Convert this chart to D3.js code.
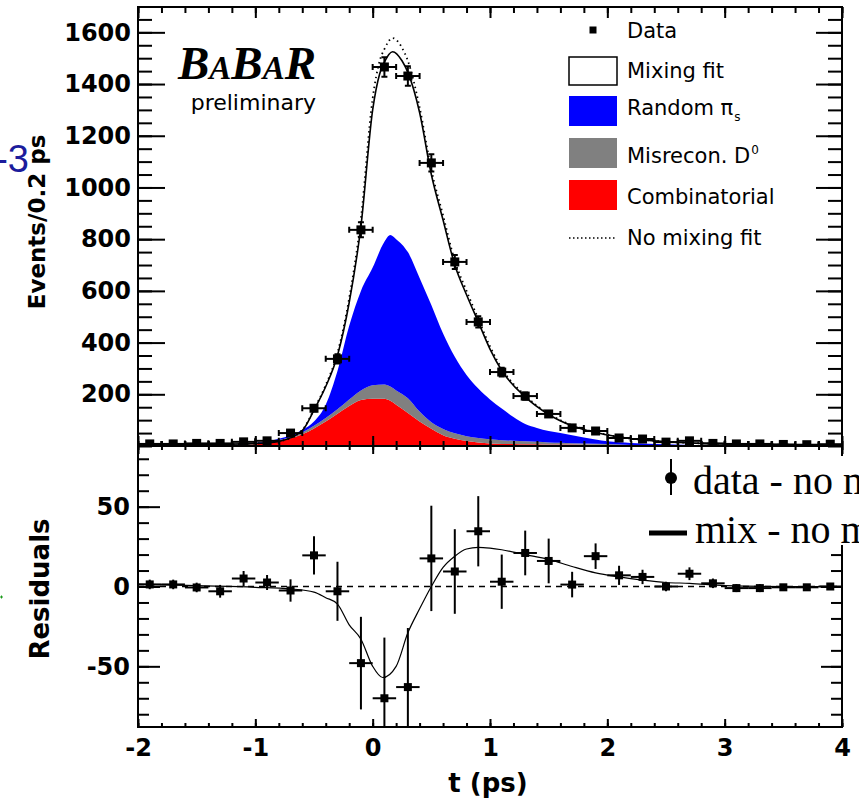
<!DOCTYPE html>
<html>
<head>
<meta charset="utf-8">
<script src="https://cdn.jsdelivr.net/npm/d3@7/dist/d3.min.js"></script>
<style>
  body { margin: 0; background: #fff; }
  svg { display: block; }
</style>
</head>
<body>
<div id="chart"></div>
<script>
// data histogram, 0.2 ps bins
var binCenters = [-1.9,-1.7,-1.5,-1.3,-1.1,-0.9,-0.7,-0.5,-0.3,-0.1,0.1,0.3,0.5,0.7,0.9,1.1,1.3,1.5,1.7,1.9,2.1,2.3,2.5,2.7,2.9,3.1,3.3,3.5,3.7,3.9];
var dataCounts = [8,8,10,10,16,20,50,146,337,836,1466,1431,1095,712,480,286,193,124,70,58,31,27,15,20,10,8,8,6,5,7];
var dataErrors = [3,3,3,3,4,5,7,12,18,29,38,38,33,27,22,17,14,11,8,8,6,5,4,4,3,3,3,2,2,3];

// residuals (data - no mixing)
var residuals = [1.3,1.3,-0.6,-3,5,2.5,-2.5,19.5,-3,-48,-70,-63,17.6,9.4,34.6,3,21,16,1.2,19,7,6,0,8,2,-1,-1,-0.5,-0.5,0];
var residualErrors = [3,3,3,4,4.7,4.7,7,12,18.5,29,38,37,33,26.5,22,17,14,14,8,8,6,4.5,3,4,3,2.5,2.5,2,2,2];

// fit curves
var fitT = [-2.0,-1.5,-1.0,-0.8,-0.6,-0.5,-0.4,-0.3,-0.2,-0.1,0.0,0.06,0.1,0.17,0.25,0.3,0.4,0.5,0.6,0.7,0.8,0.9,1.0,1.1,1.3,1.5,1.7,1.9,2.1,2.4,2.7,3.0,3.5,4.0];
var mixingFit = [4,5,10,18,60,139,230,350,555,850,1300,1440,1485,1525,1490,1445,1290,1050,874,700,585,480,375,292,190,122,78,52,35,20,12,8,5,3];
var noMixingFit = [4,5,10,18,62,142,236,360,572,880,1345,1490,1535,1578,1540,1490,1310,1068,892,716,600,492,385,300,195,125,80,53,35,20,12,8,5,3];

// mix - no mix curve for the residual pad
var residT = [-2.0,-1.5,-1.0,-0.7,-0.5,-0.4,-0.3,-0.2,-0.1,0.0,0.085,0.2,0.3,0.4,0.5,0.6,0.7,0.8,0.9,1.0,1.1,1.3,1.5,1.7,1.9,2.1,2.3,2.5,2.7,3.0,3.5,4.0];
var mixMinusNoMix = [1.5,0.5,-0.5,-1.5,-3.5,-7,-11,-24,-33,-50,-57,-50,-29,-14,0,12,19,23.5,24.5,24,23,20,17,12.5,8.5,6,4,2.5,2,0.6,0,0];

// background components (stacked)
var compT = [-2.0,-1.4,-1.2,-1.0,-0.9,-0.8,-0.7,-0.6,-0.5,-0.4,-0.3,-0.2,-0.1,0.0,0.1,0.15,0.2,0.3,0.4,0.5,0.6,0.7,0.8,0.9,1.0,1.1,1.2,1.3,1.4,1.5,1.6,1.8,2.0,2.2,2.5,2.8,3.0,4.0];
var combinatorial = [0,0,2,7,12,19,30,45,68,95,125,155,178,183,183,175,160,128,95,67,42,28,19,14,10,8,8,7,7,6,6,5,4,0,0,0,0,0];
var misrecon = [0,0,1,3,3,4,5,7,10,13,17,25,37,52,55,55,55,57,38,25,24,21,19,17,16,14,12,11,9,8,7,5,4,4,0,0,0,0];
var randomPis = [0,0,0,2,3,5,7,10,17,52,148,285,385,455,552,586,585,565,517,453,369,296,237,191,154,123,92,67,54,44,37,23,10,8,7,3,0,0];

var countTicks = [200,400,600,800,1000,1200,1400,1600];
var residTicks = [-50,0,50];
var tTicks = [-2,-1,0,1,2,3,4];

var width = 859, height = 807;
var padL = 138, padR = 842, padT = 7, padM = 446, padB = 727;

var svg = d3.select("#chart")
  .append("svg")
    .attr("width", width)
    .attr("height", height)
    .style("font-family", "'DejaVu Sans', sans-serif");

var x = d3.scaleLinear().domain([-2, 4]).range([padL, padR]);
var yTop = d3.scaleLinear().domain([0, 1698]).range([padM, padT]);
var yRes = d3.scaleLinear().domain([-88, 88]).range([padB, padM]);

// clip paths
var defs = svg.append("defs");
defs.append("clipPath").attr("id", "clipTop")
  .append("rect").attr("x", padL).attr("y", padT).attr("width", padR - padL).attr("height", padM - padT);
defs.append("clipPath").attr("id", "clipRes")
  .append("rect").attr("x", padL).attr("y", padM).attr("width", padR - padL).attr("height", padB - padM);

// ---------- top pad ----------
var gTop = svg.append("g").attr("clip-path", "url(#clipTop)");

var rows = compT.map(function(t, i) {
  return { t: t, comb: combinatorial[i], mis: misrecon[i], rnd: randomPis[i] };
});
var stacked = d3.stack().keys(["comb", "mis", "rnd"])(rows);
var compColors = { comb: "#ff0000", mis: "#808080", rnd: "#0000ff" };

var area = d3.area()
  .x(function(d) { return x(d.data.t); })
  .y0(function(d) { return yTop(d[0]); })
  .y1(function(d) { return yTop(d[1]); })
  .curve(d3.curveMonotoneX);

gTop.selectAll("path.comp")
  .data(stacked)
  .enter()
  .append("path")
    .attr("class", "comp")
    .attr("d", area)
    .attr("fill", function(d) { return compColors[d.key]; });

var fitLine = d3.line()
  .x(function(d) { return x(d[0]); })
  .y(function(d) { return yTop(d[1]); })
  .curve(d3.curveMonotoneX);

gTop.append("path")
  .attr("d", fitLine(d3.zip(fitT, noMixingFit)))
  .attr("fill", "none")
  .attr("stroke", "#000")
  .attr("stroke-width", 1.8)
  .attr("stroke-dasharray", "1.5,3.5");

gTop.append("path")
  .attr("d", fitLine(d3.zip(fitT, mixingFit)))
  .attr("fill", "none")
  .attr("stroke", "#000")
  .attr("stroke-width", 1.6);

// data points with error bars
var pts = gTop.selectAll("g.pt")
  .data(d3.zip(binCenters, dataCounts, dataErrors))
  .enter()
  .append("g").attr("class", "pt");
pts.append("line")
  .attr("x1", function(d) { return x(d[0] - 0.1); })
  .attr("x2", function(d) { return x(d[0] + 0.1); })
  .attr("y1", function(d) { return yTop(d[1]); })
  .attr("y2", function(d) { return yTop(d[1]); });
pts.append("line")
  .attr("x1", function(d) { return x(d[0]); })
  .attr("x2", function(d) { return x(d[0]); })
  .attr("y1", function(d) { return yTop(d[1] - d[2]); })
  .attr("y2", function(d) { return yTop(d[1] + d[2]); });
// end caps
pts.append("path")
  .attr("d", function(d) {
    var cx = x(d[0]), cy = yTop(d[1]), xl = x(d[0] - 0.1), xr = x(d[0] + 0.1);
    var ylo = yTop(d[1] - d[2]), yhi = yTop(d[1] + d[2]);
    return "M" + xl + "," + (cy - 3) + "V" + (cy + 3) +
           "M" + xr + "," + (cy - 3) + "V" + (cy + 3) +
           "M" + (cx - 3) + "," + ylo + "H" + (cx + 3) +
           "M" + (cx - 3) + "," + yhi + "H" + (cx + 3);
  });
pts.selectAll("line, path").attr("stroke", "#000").attr("stroke-width", 2).attr("fill", "none");
pts.append("rect")
  .attr("x", function(d) { return x(d[0]) - 4.5; })
  .attr("y", function(d) { return yTop(d[1]) - 4.5; })
  .attr("width", 9).attr("height", 9)
  .attr("fill", "#000");

// ---------- residual pad ----------
var gRes = svg.append("g").attr("clip-path", "url(#clipRes)");

gRes.append("line")
  .attr("x1", padL).attr("x2", padR)
  .attr("y1", yRes(0)).attr("y2", yRes(0))
  .attr("stroke", "#000").attr("stroke-width", 1.5)
  .attr("stroke-dasharray", "6,5");

var resLine = d3.line()
  .x(function(d) { return x(d[0]); })
  .y(function(d) { return yRes(d[1]); })
  .curve(d3.curveMonotoneX);

gRes.append("path")
  .attr("d", resLine(d3.zip(residT, mixMinusNoMix)))
  .attr("fill", "none")
  .attr("stroke", "#000")
  .attr("stroke-width", 1.2);

var rpts = gRes.selectAll("g.rpt")
  .data(d3.zip(binCenters, residuals, residualErrors))
  .enter()
  .append("g").attr("class", "rpt");
rpts.append("line")
  .attr("x1", function(d) { return x(d[0] - 0.1); })
  .attr("x2", function(d) { return x(d[0] + 0.1); })
  .attr("y1", function(d) { return yRes(d[1]); })
  .attr("y2", function(d) { return yRes(d[1]); });
rpts.append("line")
  .attr("x1", function(d) { return x(d[0]); })
  .attr("x2", function(d) { return x(d[0]); })
  .attr("y1", function(d) { return yRes(d[1] - d[2]); })
  .attr("y2", function(d) { return yRes(d[1] + d[2]); });
rpts.selectAll("line").attr("stroke", "#000").attr("stroke-width", 2);
rpts.append("rect")
  .attr("x", function(d) { return x(d[0]) - 4; })
  .attr("y", function(d) { return yRes(d[1]) - 4; })
  .attr("width", 8).attr("height", 8)
  .attr("fill", "#000");

// ---------- axes ----------
function plain(d) { return String(d); }

function styleAxis(g) {
  g.select(".domain").remove();
  g.selectAll(".tick line").attr("stroke", "#000").attr("stroke-width", 2);
  g.selectAll("text")
    .attr("fill", "#000")
    .attr("font-family", "'DejaVu Sans', sans-serif")
    .attr("font-size", 24)
    .attr("font-weight", "bold");
}

var countMinor = d3.range(0, 1700, 50);
var residMinor = d3.range(-80, 90, 10);
var tMinor = d3.range(-2, 4.01, 0.2);

// top pad, y
svg.append("g").attr("transform", "translate(" + padL + ",0)")
  .call(d3.axisLeft(yTop).tickValues(countMinor).tickSize(-14).tickFormat("")).call(styleAxis);
svg.append("g").attr("transform", "translate(" + padL + ",0)")
  .call(d3.axisLeft(yTop).tickValues(countTicks).tickSize(-27).tickPadding(7).tickFormat(plain)).call(styleAxis);
svg.append("g").attr("transform", "translate(" + padR + ",0)")
  .call(d3.axisRight(yTop).tickValues(countMinor).tickSize(-14).tickFormat("")).call(styleAxis);
svg.append("g").attr("transform", "translate(" + padR + ",0)")
  .call(d3.axisRight(yTop).tickValues(countTicks).tickSize(-26).tickFormat("")).call(styleAxis);

// top pad, x (top edge and shared edge)
svg.append("g").attr("transform", "translate(0," + padT + ")")
  .call(d3.axisTop(x).tickValues(tMinor).tickSize(-6).tickFormat("")).call(styleAxis);
svg.append("g").attr("transform", "translate(0," + padT + ")")
  .call(d3.axisTop(x).tickValues(tTicks).tickSize(-11).tickFormat("")).call(styleAxis);
svg.append("g").attr("transform", "translate(0," + padM + ")")
  .call(d3.axisBottom(x).tickValues(tMinor).tickSize(-5).tickFormat("")).call(styleAxis);
svg.append("g").attr("transform", "translate(0," + padM + ")")
  .call(d3.axisBottom(x).tickValues(tTicks).tickSize(-10).tickFormat("")).call(styleAxis);

// residual pad, x
svg.append("g").attr("transform", "translate(0," + padM + ")")
  .call(d3.axisTop(x).tickValues(tMinor).tickSize(-4).tickFormat("")).call(styleAxis);
svg.append("g").attr("transform", "translate(0," + padM + ")")
  .call(d3.axisTop(x).tickValues(tTicks).tickSize(-8).tickFormat("")).call(styleAxis);
svg.append("g").attr("transform", "translate(0," + padB + ")")
  .call(d3.axisBottom(x).tickValues(tMinor).tickSize(-4).tickFormat("")).call(styleAxis);
svg.append("g").attr("transform", "translate(0," + padB + ")")
  .call(d3.axisBottom(x).tickValues(tTicks).tickSize(-8).tickPadding(12).tickFormat(plain)).call(styleAxis);

// residual pad, y
svg.append("g").attr("transform", "translate(" + padL + ",0)")
  .call(d3.axisLeft(yRes).tickValues(residMinor).tickSize(-11).tickFormat("")).call(styleAxis);
svg.append("g").attr("transform", "translate(" + padL + ",0)")
  .call(d3.axisLeft(yRes).tickValues(residTicks).tickSize(-22).tickPadding(8).tickFormat(plain)).call(styleAxis);
svg.append("g").attr("transform", "translate(" + padR + ",0)")
  .call(d3.axisRight(yRes).tickValues(residMinor).tickSize(-11).tickFormat("")).call(styleAxis);
svg.append("g").attr("transform", "translate(" + padR + ",0)")
  .call(d3.axisRight(yRes).tickValues(residTicks).tickSize(-21).tickFormat("")).call(styleAxis);

// frames
svg.append("rect")
  .attr("x", padL).attr("y", padT).attr("width", padR - padL).attr("height", padM - padT)
  .attr("fill", "none").attr("stroke", "#000").attr("stroke-width", 2);
svg.append("rect")
  .attr("x", padL).attr("y", padM).attr("width", padR - padL).attr("height", padB - padM)
  .attr("fill", "none").attr("stroke", "#000").attr("stroke-width", 2);

// axis titles
svg.append("text")
  .attr("transform", "translate(45,222) rotate(-90)")
  .attr("text-anchor", "middle")
  .attr("font-size", 23).attr("font-weight", "bold")
  .text("Events/0.2 ps");
svg.append("text")
  .attr("transform", "translate(49,589) rotate(-90)")
  .attr("text-anchor", "middle")
  .attr("font-size", 26).attr("font-weight", "bold")
  .text("Residuals");
svg.append("text")
  .attr("x", 488).attr("y", 792)
  .attr("text-anchor", "middle")
  .attr("font-size", 26).attr("font-weight", "bold")
  .text("t (ps)");

// BaBar logo
var logo = svg.append("text")
  .attr("x", 316).attr("y", 79)
  .attr("text-anchor", "end")
  .attr("font-family", "'Liberation Serif', serif")
  .attr("font-weight", "bold").attr("font-style", "italic");
logo.append("tspan").attr("font-size", 47).text("B");
logo.append("tspan").attr("font-size", 33).text("A");
logo.append("tspan").attr("font-size", 47).text("B");
logo.append("tspan").attr("font-size", 33).text("A");
logo.append("tspan").attr("font-size", 47).text("R");
svg.append("text")
  .attr("x", 316).attr("y", 110)
  .attr("text-anchor", "end")
  .attr("font-size", 22)
  .text("preliminary");

// top legend
var lx = 569, lw = 48, tx = 627;
svg.append("rect").attr("x", 593 - 3.5).attr("y", 30 - 3.5).attr("width", 7).attr("height", 7).attr("fill", "#000");
svg.append("rect").attr("x", lx).attr("y", 57).attr("width", lw).attr("height", 28)
  .attr("fill", "#fff").attr("stroke", "#000").attr("stroke-width", 1.5);
svg.append("rect").attr("x", lx).attr("y", 96).attr("width", lw).attr("height", 30).attr("fill", "#0000ff");
svg.append("rect").attr("x", lx).attr("y", 138).attr("width", lw).attr("height", 30).attr("fill", "#808080");
svg.append("rect").attr("x", lx).attr("y", 180).attr("width", lw).attr("height", 30).attr("fill", "#ff0000");
svg.append("line").attr("x1", lx).attr("x2", lx + lw).attr("y1", 238).attr("y2", 238)
  .attr("stroke", "#000").attr("stroke-width", 1.5).attr("stroke-dasharray", "1.5,2.5");

var legendLabels = ["Data", "Mixing fit", "Random \u03c0", "Misrecon. D", "Combinatorial", "No mixing fit"];
var legendScripts = ["", "", "s", "0", "", ""];
var legendBase = [38, 78, 115, 163, 204, 245];
var legText = svg.selectAll("text.leg")
  .data(legendLabels)
  .enter()
  .append("text")
    .attr("class", "leg")
    .attr("x", tx)
    .attr("y", function(d, i) { return legendBase[i]; })
    .attr("font-size", 21);
legText.append("tspan").text(function(d) { return d; });
legText.append("tspan")
  .attr("font-size", 12)
  .attr("dx", 1)
  .attr("dy", function(d, i) { return legendScripts[i] === "s" ? 6 : -9; })
  .text(function(d, i) { return legendScripts[i]; });

// residual legend box (covers part of the frame)
svg.append("rect").attr("x", 645).attr("y", 456).attr("width", 214).attr("height", 89).attr("fill", "#fff");
svg.append("line").attr("x1", 671).attr("x2", 671).attr("y1", 459).attr("y2", 495)
  .attr("stroke", "#000").attr("stroke-width", 2);
svg.append("circle").attr("cx", 671).attr("cy", 478).attr("r", 6).attr("fill", "#000");
svg.append("line").attr("x1", 649).attr("x2", 687).attr("y1", 533).attr("y2", 533)
  .attr("stroke", "#000").attr("stroke-width", 5);
svg.append("text").attr("x", 693).attr("y", 494)
  .attr("font-family", "'Liberation Serif', serif").attr("font-size", 40)
  .text("data - no mixing");
svg.append("text").attr("x", 695).attr("y", 543)
  .attr("font-family", "'Liberation Serif', serif").attr("font-size", 40)
  .text("mix - no mixing");

// stray marks at the left edge
svg.append("text").attr("x", 29).attr("y", 172)
  .attr("text-anchor", "end")
  .attr("font-family", "'Liberation Sans', sans-serif").attr("font-size", 38)
  .attr("fill", "#1c1c9c")
  .text("-3");
svg.append("path").attr("d", "M0,597H3M1.5,595.5V598.5")
  .attr("stroke", "#1a9a1a").attr("stroke-width", 1);
</script>
</body>
</html>
